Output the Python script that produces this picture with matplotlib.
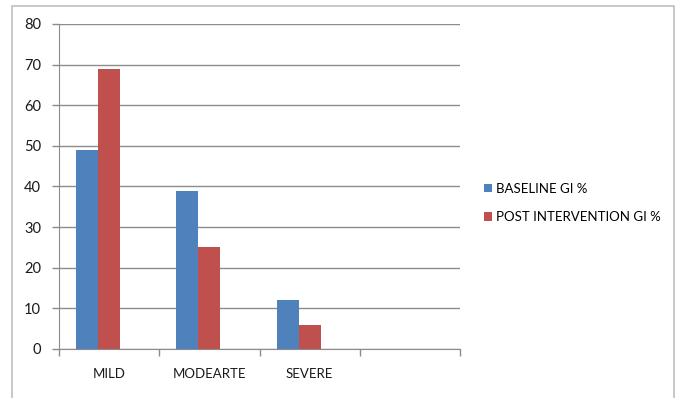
import matplotlib
matplotlib.use("Agg")
import matplotlib.pyplot as plt
import numpy as np
from matplotlib.patches import Rectangle

# GI severity grades, baseline vs post intervention
categories = ["MILD", "MODEARTE", "SEVERE", ""]
baseline = [49, 39, 12]
post = [69, 25, 6]
series_names = ["BASELINE GI %", "POST INTERVENTION GI %"]

plt.rcParams['font.family'] = ['Lato', 'DejaVu Sans']

fig = plt.figure(figsize=(6.8, 3.98), dpi=100)

# outer chart frame
fig.patches.append(Rectangle((12 / 680, -0.05), 662 / 680, 1.05 - 6 / 398,
                             transform=fig.transFigure, fill=False,
                             edgecolor="#bfbfbf", linewidth=1.2))

ax = fig.add_axes([59 / 680, 49 / 398, 401 / 680, 325 / 398])

x = np.arange(len(categories))
w = 0.22
# group laid out for three bar slots, the third one is empty
ax.bar(x[:3] - w, baseline, w, color="#4F81BD", label=series_names[0], zorder=3)
ax.bar(x[:3], post, w, color="#C0504D", label=series_names[1], zorder=3)

ax.set_xlim(-0.5, len(categories) - 0.5)
ax.set_ylim(0, 80)
ax.set_yticks(range(0, 81, 10))
ax.yaxis.grid(True, color="#8c8c8c", linewidth=1.0, zorder=0)

# category labels between the boundary tick marks
ax.set_xticks(np.arange(len(categories) + 1) - 0.5)
ax.set_xticklabels([])
ax.set_xticks(x, minor=True)
ax.set_xticklabels(categories, minor=True)
ax.tick_params(axis="x", which="minor", length=0, pad=14, labelsize=9.5, colors="#1a1a1a")
ax.tick_params(axis="x", which="major", length=5, color="#8c8c8c", width=1.0)
ax.tick_params(axis="y", length=5, width=1.0, labelsize=10.5, pad=8, colors="#1a1a1a")
ax.tick_params(axis="y", color="#8c8c8c")

for side in ["top", "right"]:
    ax.spines[side].set_visible(False)
ax.spines["left"].set_color("#8c8c8c")
ax.spines["bottom"].set_color("#8c8c8c")

ax.legend(loc="center left", bbox_to_anchor=(1.03, 0.45), frameon=False,
          fontsize=9.5, handlelength=0.6, handleheight=0.6, handletextpad=0.35,
          labelspacing=1.25)

fig.savefig("out.png", dpi=100)
